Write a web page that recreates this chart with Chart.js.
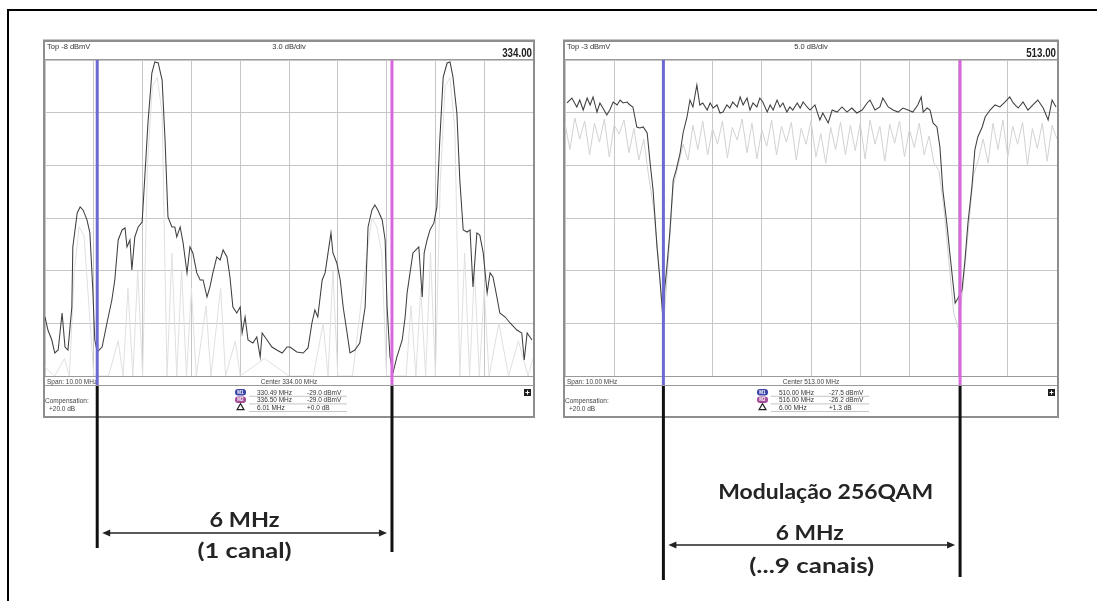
<!DOCTYPE html>
<html><head><meta charset="utf-8">
<script src="https://cdn.jsdelivr.net/npm/chart.js@4"></script>
<style>
html,body{margin:0;padding:0;background:#fff;}
#wrap{position:relative;width:1097px;height:601px;overflow:hidden;background:#fff;}
#frame{position:absolute;left:7px;top:9px;width:1300px;height:800px;border-top:2px solid #000;border-left:2px solid #000;}
canvas{position:absolute;top:0;}
</style></head><body>
<div id="wrap"><div id="frame"></div>
<canvas id="c1" width="548" height="601" style="left:0"></canvas>
<canvas id="c2" width="549" height="601" style="left:548px"></canvas>
</div>
<script>
// ---------- LEFT analyzer (center 334 MHz, span 10 MHz, top -8 dBmV, 3 dB/div) ----------
const leftMainMHz = [329.00,329.06,329.14,329.20,329.27,329.35,329.41,329.47,329.55,329.57,329.66,329.72,329.78,329.86,329.92,329.98,330.02,330.07,330.17,330.27,330.37,330.43,330.50,330.58,330.64,330.68,330.74,330.78,330.84,330.91,330.99,331.05,331.11,331.19,331.25,331.32,331.40,331.46,331.52,331.60,331.66,331.70,331.77,331.83,331.91,331.97,332.03,332.11,332.18,332.24,332.32,332.38,332.44,332.52,332.59,332.65,332.73,332.79,332.85,332.93,333.00,333.04,333.10,333.16,333.26,333.34,333.41,333.45,333.55,333.65,333.75,333.86,333.96,334.02,334.16,334.29,334.39,334.47,334.53,334.59,334.68,334.74,334.80,334.86,334.90,334.98,335.05,335.11,335.19,335.25,335.35,335.45,335.56,335.62,335.70,335.76,335.82,335.91,335.97,336.01,336.07,336.13,336.21,336.32,336.38,336.42,336.48,336.54,336.60,336.66,336.73,336.77,336.83,336.89,336.97,337.03,337.09,337.16,337.24,337.30,337.36,337.44,337.50,337.57,337.65,337.71,337.77,337.85,337.91,337.98,338.06,338.12,338.18,338.26,338.32,338.43,338.53,338.67,338.77,338.82,338.88,338.98];
const leftMainDbmv = [-22.64,-23.38,-23.95,-24.69,-24.52,-22.41,-24.35,-24.52,-22.07,-18.65,-16.71,-16.37,-16.54,-17.11,-17.85,-21.10,-23.95,-24.63,-24.35,-22.98,-21.67,-20.53,-18.25,-17.68,-17.57,-18.65,-18.25,-19.96,-18.08,-17.51,-17.23,-14.44,-11.59,-8.74,-8.11,-8.17,-9.14,-12.56,-16.94,-17.51,-17.51,-18.08,-17.51,-18.42,-20.13,-18.65,-18.99,-20.13,-20.53,-20.53,-21.50,-20.93,-20.13,-19.22,-19.39,-18.82,-19.22,-20.36,-22.07,-22.41,-22.07,-23.55,-22.64,-23.95,-24.12,-23.78,-24.92,-23.55,-23.95,-24.35,-24.52,-24.69,-24.35,-24.35,-24.63,-24.69,-24.40,-22.98,-22.24,-22.64,-20.53,-20.13,-18.99,-17.85,-18.99,-19.56,-20.53,-22.07,-23.55,-24.69,-24.52,-24.12,-22.07,-17.51,-16.54,-16.26,-16.54,-17.11,-18.25,-22.07,-24.92,-25.83,-24.92,-23.95,-22.64,-21.27,-20.13,-18.99,-18.82,-18.65,-21.50,-18.99,-18.25,-17.68,-17.28,-16.37,-12.56,-8.97,-8.17,-8.11,-8.97,-11.02,-14.84,-17.68,-17.80,-17.68,-20.93,-17.85,-17.97,-18.99,-21.27,-20.13,-20.36,-21.50,-22.41,-22.64,-22.98,-23.38,-23.55,-25.09,-23.55,-23.95];
const leftHoldMHz = [329.0,329.2,329.4,329.5,329.6,329.7,329.8,329.9,330.0,330.3,330.5,330.6,330.7,330.8,330.9,331.0,331.1,331.2,331.3,331.4,331.5,331.6,331.7,331.8,331.9,332.0,332.1,332.3,332.4,332.6,332.7,332.9,333.0,333.5,334.0,334.5,334.7,334.8,334.9,335.0,335.3,335.6,335.7,335.8,335.9,336.0,336.4,336.5,336.6,336.7,336.8,336.9,337.0,337.1,337.2,337.3,337.4,337.5,337.6,337.7,337.8,337.9,338.0,338.1,338.3,338.5,338.7,338.9,339.0];
const leftHoldDbmv = [-25.5,-26,-25,-26,-20,-17.5,-18,-22,-26,-26,-24,-26,-21,-26,-20,-26,-14,-9.5,-9,-11,-26,-19,-26,-20,-26,-21,-26,-22,-26,-21,-26,-24,-26,-25,-26,-26,-23,-26,-20,-26,-26,-19,-17,-17.5,-19,-26,-26,-22,-26,-21,-26,-19,-26,-15,-9.5,-9,-12,-26,-19,-26,-20,-26,-21,-26,-23,-26,-24,-26,-25];
const leftMarkersMHz = [330.07, 336.11];
const leftHeader = ["Top -8 dBmV", "3.0 dB/div", "334.00"];
const leftFooter = ["Span: 10.00 MHz", "Center 334.00 MHz"];
const leftReadFreq = ["330.49 MHz", "336.50 MHz", "6.01 MHz"];
const leftReadLevel = ["-29.0 dBmV", "-29.0 dBmV", "+0.0 dB"];
const leftNotes = ["6 MHz", "(1 canal)"];

// ---------- RIGHT analyzer (center 513 MHz, span 10 MHz, top -3 dBmV, 5 dB/div) ----------
const rightMainMHz = [508.04,508.14,508.24,508.30,508.37,508.45,508.51,508.57,508.65,508.71,508.77,508.85,508.91,508.98,509.06,509.12,509.18,509.26,509.32,509.38,509.46,509.52,509.59,509.67,509.73,509.79,509.87,509.93,509.99,510.03,510.07,510.13,510.20,510.26,510.34,510.40,510.48,510.54,510.60,510.68,510.74,510.80,510.89,510.95,511.01,511.09,511.15,511.21,511.29,511.35,511.41,511.50,511.56,511.62,511.70,511.76,511.82,511.90,511.96,512.02,512.11,512.17,512.23,512.31,512.37,512.43,512.51,512.57,512.63,512.72,512.78,512.84,512.92,512.98,513.08,513.18,513.24,513.35,513.43,513.53,513.63,513.73,513.83,513.93,514.04,514.14,514.20,514.30,514.40,514.46,514.57,514.67,514.77,514.87,514.97,515.07,515.17,515.24,515.28,515.36,515.42,515.48,515.56,515.62,515.68,515.76,515.83,515.93,515.99,516.07,516.13,516.19,516.27,516.33,516.39,516.48,516.54,516.64,516.74,516.84,516.94,517.04,517.11,517.21,517.31,517.41,517.51,517.61,517.72,517.82,517.90,517.98];
const rightMainDbmv = [-7.08,-6.61,-7.46,-6.80,-7.75,-6.61,-7.27,-6.51,-7.94,-7.08,-7.56,-8.22,-7.75,-6.99,-7.27,-6.80,-7.08,-6.99,-7.27,-7.46,-9.36,-9.46,-9.36,-9.93,-12.78,-15.34,-20.75,-23.88,-27.40,-24.55,-22.65,-19.42,-14.39,-13.44,-11.83,-9.93,-8.41,-6.80,-7.46,-5.37,-7.27,-7.08,-7.75,-7.08,-7.56,-7.27,-8.03,-7.94,-7.27,-7.56,-6.99,-7.46,-6.51,-7.27,-6.61,-7.75,-7.08,-7.46,-6.61,-6.99,-7.94,-7.27,-7.75,-6.80,-7.46,-7.08,-7.94,-7.46,-7.75,-7.08,-7.56,-6.99,-7.46,-7.75,-7.27,-8.70,-8.03,-8.98,-7.75,-7.94,-7.46,-7.94,-7.56,-8.03,-7.75,-7.08,-6.80,-7.75,-7.46,-6.61,-7.46,-7.75,-7.94,-7.56,-7.75,-7.94,-7.27,-6.51,-7.94,-7.56,-7.75,-8.98,-9.36,-11.26,-15.34,-18.47,-21.70,-26.07,-25.59,-24.83,-21.99,-18.47,-15.06,-11.54,-10.31,-9.36,-8.41,-7.75,-7.27,-7.46,-6.99,-6.51,-7.08,-7.56,-6.99,-7.75,-7.27,-6.80,-7.56,-8.70,-6.80,-7.46];
const rightHoldMHz = [508.0,508.1,508.2,508.3,508.4,508.5,508.6,508.7,508.8,508.9,509.0,509.1,509.2,509.3,509.4,509.5,509.6,509.7,509.8,509.9,510.0,510.1,510.2,510.3,510.4,510.5,510.6,510.7,510.8,510.9,511.0,511.1,511.2,511.3,511.4,511.5,511.6,511.7,511.8,511.9,512.0,512.1,512.2,512.3,512.4,512.5,512.6,512.7,512.8,512.9,513.0,513.1,513.2,513.3,513.4,513.5,513.6,513.7,513.8,513.9,514.0,514.1,514.2,514.3,514.4,514.5,514.6,514.7,514.8,514.9,515.0,515.1,515.2,515.3,515.4,515.5,515.6,515.7,515.8,515.9,516.0,516.1,516.2,516.3,516.4,516.5,516.6,516.7,516.8,516.9,517.0,517.1,517.2,517.3,517.4,517.5,517.6,517.7,517.8,517.9,518.0];
const rightHoldDbmv = [-9.0,-11.5,-8.5,-10.5,-8.8,-12.0,-9.0,-10.8,-8.6,-12.2,-9.2,-10.0,-8.7,-11.8,-9.5,-12.5,-10.5,-14,-17,-22,-28.5,-22,-15,-13,-11,-12.5,-9.2,-11.5,-8.8,-12.0,-9.5,-11.0,-8.8,-12.3,-9.4,-10.6,-8.6,-11.8,-9.0,-12.4,-9.6,-11.2,-8.7,-12.0,-9.3,-10.8,-8.9,-12.5,-9.5,-11.0,-8.8,-12.2,-10.0,-12.8,-9.4,-11.5,-8.9,-12.0,-9.2,-11.6,-9.0,-12.4,-8.7,-11.0,-9.3,-12.6,-9.1,-10.9,-8.8,-12.2,-9.6,-11.3,-9.0,-12.0,-10.2,-12.8,-13.5,-17,-22,-27,-28.6,-24,-19,-14,-12.5,-10.5,-12.8,-9.0,-11.5,-8.7,-12.2,-9.3,-11.0,-8.9,-13.0,-9.5,-11.4,-9.0,-12.6,-9.2,-10.5];
const rightMarkersMHz = [510.00, 516.03];
const rightHeader = ["Top -3 dBmV", "5.0 dB/div", "513.00"];
const rightFooter = ["Span: 10.00 MHz", "Center 513.00 MHz"];
const rightReadFreq = ["510.00 MHz", "516.00 MHz", "6.00 MHz"];
const rightReadLevel = ["-27.5 dBmV", "-26.2 dBmV", "+1.3 dB"];
const rightNotes = ["Modulação 256QAM", "6 MHz", "(...9 canais)"];

const compensation = ["Compensation:", "+20.0 dB"];

function zip(xs, ys){ return xs.map((x,i)=>({x:x, y:ys[i]})); }

function fitText(ctx, s, cx, base, w, size){
  ctx.font = 'bold ' + size + 'px Lato, "Open Sans", sans-serif';
  const m = ctx.measureText(s).width;
  ctx.save(); ctx.translate(cx, base); ctx.scale(w/m, 1);
  ctx.textAlign = 'center'; ctx.textBaseline = 'alphabetic';
  ctx.fillStyle = '#242424'; ctx.fillText(s, 0, 0); ctx.restore();
}

function chrome(p){
  return { id:'chrome', afterDraw(chart){
    const ctx = chart.ctx, a = chart.chartArea, xs = chart.scales.x;
    const L = a.left, R = a.right, T = a.top, B = a.bottom, C = (L+R)/2;
    ctx.save();
    ctx.strokeStyle = '#8e8e8e'; ctx.lineWidth = 2;
    ctx.strokeRect(L-1, 41, R-L+2, 417-41);
    ctx.fillStyle = '#8e8e8e'; ctx.fillRect(L-2, 39.5, R-L+4, 2.5);
    ctx.strokeStyle = '#9a9a9a'; ctx.lineWidth = 1;
    [T-0.5, B+0.5, 385.5].forEach(y=>{ ctx.beginPath(); ctx.moveTo(L, y); ctx.lineTo(R, y); ctx.stroke(); });
    ctx.fillStyle = '#333'; ctx.textBaseline = 'alphabetic';
    ctx.font = '7.5px "Liberation Sans", Arial, sans-serif';
    ctx.textAlign = 'left'; ctx.fillText(p.header[0], L+2, 49);
    ctx.textAlign = 'center'; ctx.fillText(p.header[1], C, 49);
    ctx.save(); ctx.translate(R-1, 57); ctx.scale(0.75, 1);
    ctx.font = 'bold 13px "Liberation Sans", Arial, sans-serif'; ctx.textAlign = 'right';
    ctx.fillStyle = '#222'; ctx.fillText(p.header[2], 0, 0); ctx.restore();
    ctx.font = '6.5px "Liberation Sans", Arial, sans-serif'; ctx.fillStyle = '#444';
    ctx.textAlign = 'left'; ctx.fillText(p.footer[0], L+2, 383.5);
    ctx.textAlign = 'center'; ctx.fillText(p.footer[1], C, 383.5);
    ctx.textAlign = 'left';
    ctx.fillText(compensation[0], L, 403); ctx.fillText(compensation[1], L+4, 410.5);
    for (let i = 0; i < 3; i++){
      const y = 394.5 + i*7.6;
      if (i < 2){
        ctx.fillStyle = i === 0 ? '#3a44a8' : '#a24a96';
        ctx.beginPath(); ctx.roundRect(C-54, y-5.5, 11, 6.5, 3); ctx.fill();
        ctx.fillStyle = '#fff'; ctx.font = 'bold 4.5px "Liberation Sans", Arial'; ctx.textAlign = 'center';
        ctx.fillText(i === 0 ? 'M1' : 'M2', C-48.5, y-0.7);
      } else {
        ctx.strokeStyle = '#222'; ctx.lineWidth = 1.2; ctx.beginPath();
        ctx.moveTo(C-52, y); ctx.lineTo(C-48.5, y-6); ctx.lineTo(C-45, y); ctx.closePath(); ctx.stroke();
      }
      ctx.fillStyle = '#333'; ctx.font = '6.5px "Liberation Sans", Arial, sans-serif'; ctx.textAlign = 'left';
      ctx.fillText(p.readFreq[i], C-32, y); ctx.fillText(p.readLevel[i], C+18, y);
      ctx.strokeStyle = '#b8b8b8'; ctx.lineWidth = 0.8; ctx.beginPath();
      ctx.moveTo(C-40, y+1.8); ctx.lineTo(C+58, y+1.8); ctx.stroke();
    }
    ctx.fillStyle = '#1e1e1e'; ctx.fillRect(R-9, 389, 7, 7);
    ctx.fillStyle = '#fff'; ctx.fillRect(R-6, 390.5, 1, 4); ctx.fillRect(R-7.5, 392, 4, 1);
    const px = p.markers.map(m => xs.getPixelForValue(m));
    px.forEach((x, i) => {
      ctx.strokeStyle = p.markerColors[i]; ctx.lineWidth = 3;
      ctx.beginPath(); ctx.moveTo(x, B); ctx.lineTo(x, 385); ctx.stroke();
      ctx.strokeStyle = '#111'; ctx.lineWidth = 3;
      ctx.beginPath(); ctx.moveTo(x, 386); ctx.lineTo(x, p.lineEnds[i]); ctx.stroke();
    });
    const ay = p.arrowY, x0 = px[0] + 5, x1 = px[1] - 5;
    ctx.strokeStyle = '#222'; ctx.lineWidth = 1.3;
    ctx.beginPath(); ctx.moveTo(x0+4, ay); ctx.lineTo(x1-4, ay); ctx.stroke();
    ctx.fillStyle = '#222';
    ctx.beginPath(); ctx.moveTo(x0, ay); ctx.lineTo(x0+8, ay-3.5); ctx.lineTo(x0+8, ay+3.5); ctx.closePath(); ctx.fill();
    ctx.beginPath(); ctx.moveTo(x1, ay); ctx.lineTo(x1-8, ay-3.5); ctx.lineTo(x1-8, ay+3.5); ctx.closePath(); ctx.fill();
    const mid = (px[0] + px[1]) / 2;
    p.notes.forEach(n => fitText(ctx, n.text, mid + n.dx, n.base, n.w, 20));
    ctx.restore();
  }};
}

function makeChart(id, cfg){
  const markerDs = cfg.markers.map((m, i) => ({
    data: [{x:m, y:cfg.yMax}, {x:m, y:cfg.yMin}], borderColor: cfg.markerColors[i],
    borderWidth: 3, pointRadius: 0, tension: 0
  }));
  return new Chart(document.getElementById(id), {
    type: 'line',
    data: { datasets: [
      ...markerDs,
      { data: zip(cfg.mainX, cfg.mainY), borderColor: '#3e3e3e', borderWidth: 1.05, pointRadius: 0, tension: 0 },
      { data: zip(cfg.holdX, cfg.holdY), borderColor: cfg.holdColor, borderWidth: 1, pointRadius: 0, tension: 0 }
    ]},
    options: {
      responsive: false, animation: false, events: [],
      layout: { padding: cfg.padding },
      plugins: { legend: {display:false}, tooltip: {enabled:false} },
      scales: {
        x: { type:'linear', min: cfg.xMin, max: cfg.xMax,
             ticks: { display:false, stepSize: 1 }, grid: { color:'#c6c6c6', drawTicks:false }, border: {display:false} },
        y: { type:'linear', min: cfg.yMin, max: cfg.yMax,
             ticks: { display:false, stepSize: cfg.yStep }, grid: { color:'#c6c6c6', drawTicks:false }, border: {display:false} }
      }
    },
    plugins: [chrome(cfg)]
  });
}

const markerColors = ['#6a6ad2', '#d868dc'];

makeChart('c1', {
  mainX: leftMainMHz, mainY: leftMainDbmv, holdX: leftHoldMHz, holdY: leftHoldDbmv, holdColor: '#e0e0e0',
  xMin: 329, xMax: 339, yMin: -26, yMax: -8, yStep: 3,
  padding: { left: 45, top: 60, right: 15, bottom: 225 },
  markers: leftMarkersMHz, markerColors: markerColors,
  header: leftHeader, footer: leftFooter, readFreq: leftReadFreq, readLevel: leftReadLevel,
  lineEnds: [548, 552], arrowY: 533,
  notes: [ {text:leftNotes[0], dx:0, base:527, w:70}, {text:leftNotes[1], dx:0, base:558, w:94} ]
});

makeChart('c2', {
  mainX: rightMainMHz, mainY: rightMainDbmv, holdX: rightHoldMHz, holdY: rightHoldDbmv, holdColor: '#d2d2d2',
  xMin: 508, xMax: 518, yMin: -33, yMax: -3, yStep: 5,
  padding: { left: 17, top: 60, right: 40, bottom: 225 },
  markers: rightMarkersMHz, markerColors: markerColors,
  header: rightHeader, footer: rightFooter, readFreq: rightReadFreq, readLevel: rightReadLevel,
  lineEnds: [580, 577], arrowY: 545,
  notes: [ {text:rightNotes[0], dx:14, base:499, w:215}, {text:rightNotes[1], dx:-2, base:540, w:68}, {text:rightNotes[2], dx:0, base:573, w:125} ]
});
</script>
</body></html>
